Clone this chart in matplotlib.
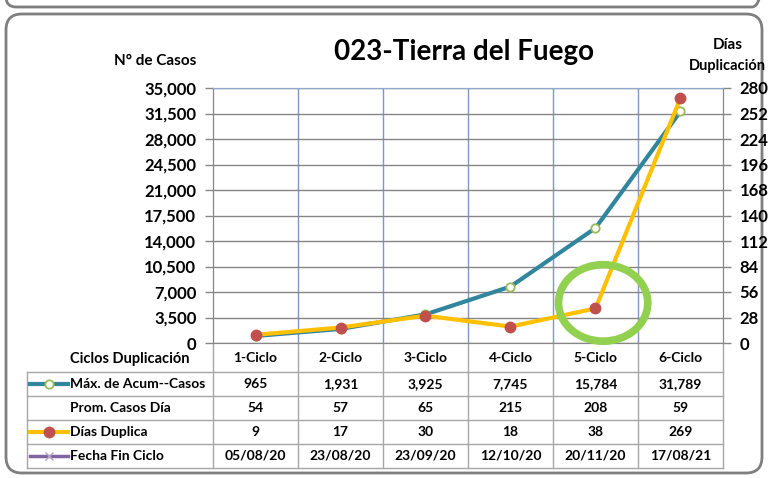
import matplotlib
matplotlib.use("Agg")
import matplotlib.pyplot as plt
from matplotlib.patches import Ellipse, FancyBboxPatch
from matplotlib.lines import Line2D
from matplotlib.ticker import FuncFormatter

categories = ["1-Ciclo", "2-Ciclo", "3-Ciclo", "4-Ciclo", "5-Ciclo", "6-Ciclo"]
max_casos = [965, 1931, 3925, 7745, 15784, 31789]
prom_casos = [54, 57, 65, 215, 208, 59]
dias_duplica = [9, 17, 30, 18, 38, 269]
fecha_fin = ["05/08/20", "23/08/20", "23/09/20", "12/10/20", "20/11/20", "17/08/21"]
left_ticks = [0, 3500, 7000, 10500, 14000, 17500, 21000, 24500, 28000, 31500, 35000]
right_ticks = [0, 28, 56, 84, 112, 140, 168, 196, 224, 252, 280]

FONT = "Lato"
WT = "bold"
W, H = 769, 478
fig = plt.figure(figsize=(W / 100, H / 100), dpi=100)
fig.patch.set_facecolor("white")

x0, x1, ytop, ybot = 213, 723, 88, 343
ax = fig.add_axes([x0 / W, 1 - ybot / H, (x1 - x0) / W, (ybot - ytop) / H])
ax2 = ax.twinx()

n = len(categories)
xs = list(range(n))
ax.set_xlim(-0.5, n - 0.5)
ax.set_ylim(0, 35000)
ax2.set_ylim(0, 280)

ax.set_yticks(left_ticks)
ax.yaxis.set_major_formatter(FuncFormatter(lambda v, p: f"{int(v):,}"))
ax2.set_yticks(right_ticks)
for a in (ax, ax2):
    a.tick_params(axis="y", length=6, width=1, color="#868686", labelsize=12, pad=6)
    for lbl in a.get_yticklabels():
        lbl.set_fontfamily(FONT)
        lbl.set_fontweight(WT)
ax.set_xticks([])
ax.set_xticks([i + 0.5 for i in range(n - 1)], minor=True)
ax.tick_params(axis="x", which="both", length=0)
ax.grid(axis="y", color="#868686", lw=1)
ax.grid(axis="x", which="minor", color="#7F98BF", lw=1)
ax.set_axisbelow(True)
for s in ["left", "right", "bottom"]:
    ax.spines[s].set_color("#868686")
    ax2.spines[s].set_color("#868686")
ax.spines["top"].set_color("#8EA9D0")
ax2.spines["top"].set_color("#8EA9D0")

ax.plot(xs, max_casos, color="#31859C", lw=3, marker="o", ms=6,
        mfc="white", mec="#9BBB59", mew=1.3, zorder=3)
ax2.plot(xs, dias_duplica, color="#FFC000", lw=3, marker="o", ms=7.5,
         mfc="#C0504D", mec="#C0504D", zorder=4)
ax2.add_patch(Ellipse((4.09, 44), 1.05, 84, fill=False, ec="#92D050", lw=5.5,
                      zorder=5, clip_on=False))

ov = fig.add_axes([0, 0, 1, 1], zorder=-1)
ov.set_xlim(0, W)
ov.set_ylim(H, 0)
ov.axis("off")

# frames
ov.add_patch(FancyBboxPatch((6, 14), 756, 459, boxstyle="round,pad=0,rounding_size=16",
                            fill=False, ec="#7F7F7F", lw=2))
ov.add_patch(FancyBboxPatch((6, -40), 756, 47, boxstyle="round,pad=0,rounding_size=10",
                            fill=False, ec="#7F7F7F", lw=2))

fig.text(464 / W, 1 - 52 / H, "023-Tierra del Fuego", ha="center", va="center",
         fontsize=20, fontweight=WT, fontfamily=FONT)
fig.text(155 / W, 1 - 61 / H, "N° de Casos", ha="center", va="center",
         fontsize=11, fontweight=WT, fontfamily=FONT)
fig.text(728 / W, 1 - 45 / H, "Días", ha="center", va="center",
         fontsize=11, fontweight=WT, fontfamily=FONT)
fig.text(766 / W, 1 - 66 / H, "Duplicación", ha="right", va="center",
         fontsize=10.5, fontweight=WT, fontfamily=FONT)

# table
col_w = (x1 - x0) / n
row_lines = [372, 396, 420, 444, 468]
tcol = "#A6A6A6"
for y in row_lines:
    ov.add_line(Line2D([27, x1], [y, y], color=tcol, lw=1))
ov.add_line(Line2D([27, 27], [372, 468], color=tcol, lw=1))
for i in range(n + 1):
    xb = x0 + i * col_w
    ov.add_line(Line2D([xb, xb], [ybot, 468], color=tcol, lw=1))

tk = dict(ha="center", va="center", fontsize=10, fontweight=WT, fontfamily=FONT)
ov.text(130, 359, "Ciclos Duplicación", **{**tk, "fontsize": 10.5})
rows = [
    ("Máx. de Acum--Casos", [f"{v:,}" for v in max_casos]),
    ("Prom. Casos Día", [str(v) for v in prom_casos]),
    ("Días Duplica", [str(v) for v in dias_duplica]),
    ("Fecha Fin Ciclo", fecha_fin),
]
for i, c in enumerate(categories):
    ov.text(x0 + (i + 0.5) * col_w, 358, c, **tk)
for r, (label, vals) in enumerate(rows):
    yc = (row_lines[r] + row_lines[r + 1]) / 2
    ov.text(70, yc, label, ha="left", va="center", fontsize=10, fontweight=WT,
            fontfamily=FONT)
    for i, v in enumerate(vals):
        ov.text(x0 + (i + 0.5) * col_w, yc, v, **tk)

# legend keys
y1 = (row_lines[0] + row_lines[1]) / 2
ov.add_line(Line2D([30, 68], [y1, y1], color="#31859C", lw=3))
ov.add_line(Line2D([49], [y1], marker="o", ms=6, mfc="white", mec="#9BBB59", mew=1.3))
y3 = (row_lines[2] + row_lines[3]) / 2
ov.add_line(Line2D([30, 68], [y3, y3], color="#FFC000", lw=3))
ov.add_line(Line2D([49], [y3], marker="o", ms=7.5, mfc="#C0504D", mec="#C0504D"))
y4 = (row_lines[3] + row_lines[4]) / 2
ov.add_line(Line2D([30, 68], [y4, y4], color="#8064A2", lw=2.5))
ov.add_line(Line2D([49], [y4], marker="x", ms=6, mec="#B3A2C7", mew=1))

fig.savefig("out.png", dpi=100)
